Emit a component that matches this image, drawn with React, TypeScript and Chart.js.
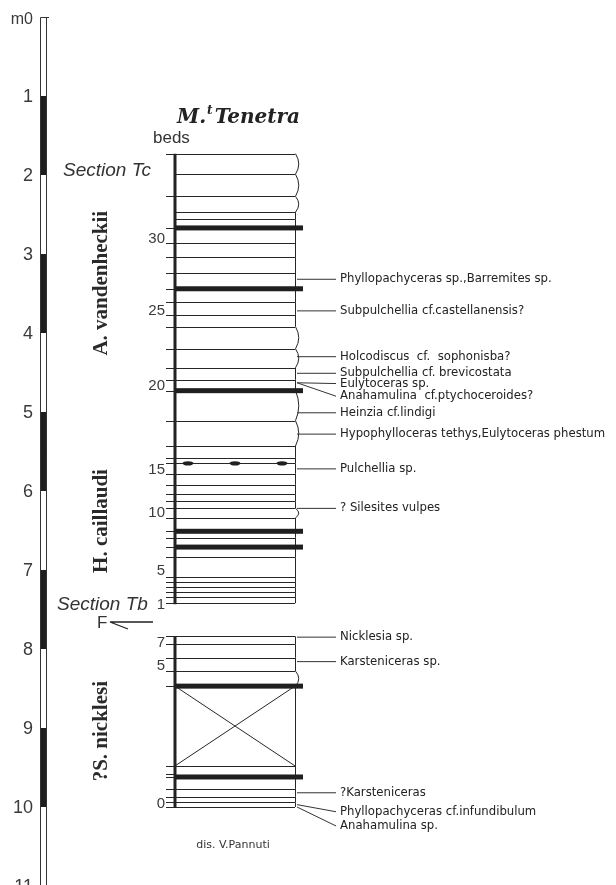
import React, { useEffect, useRef } from "react";
import { Chart, registerables } from "chart.js";

Chart.register(...registerables);

// ---- meter scale (m from top of the figure) ----
const meterTicks = [0, 1, 2, 3, 4, 5, 6, 7, 8, 9, 10, 11];
const meterLabels = ["m0", "1", "2", "3", "4", "5", "6", "7", "8", "9", "10", "11"];
const blackIntervals: number[][] = [[1, 2], [3, 4], [5, 6], [7, 8], [9, 10]];

// ---- bed boundaries (m) ----
const upperBeds = [
  1.73, 1.99, 2.27, 2.47, 2.56, 2.67, 2.86, 3.04, 3.24, 3.44, 3.61, 3.77, 3.92, 4.2, 4.44,
  4.59, 4.73, 5.11, 5.43, 5.58, 5.65, 5.78, 5.92, 6.04, 6.13, 6.22, 6.34, 6.51, 6.59, 6.71,
  6.84, 7.09, 7.15, 7.22, 7.28, 7.34, 7.42,
];
const lowerBeds = [7.84, 7.94, 8.11, 8.28, 8.47, 9.48, 9.62, 9.77, 9.87, 9.94, 10.0];
const thickBeds = [2.67, 3.44, 4.73, 6.51, 6.71, 8.47, 9.62];
const lensLevels = [5.65];
const curvedBeds: number[][] = [
  [1.73, 1.99], [1.99, 2.27], [2.27, 2.47], [3.92, 4.2], [4.2, 4.44], [4.73, 5.11],
  [5.11, 5.43], [6.22, 6.34], [8.28, 8.47],
];
const coveredInterval = [8.47, 9.48];
const noTickLevels = [1.99, 2.47, 2.56];
const extraTicks = [9.58];

// ---- bed numbers ----
const bedNumbers = ["30", "25", "20", "15", "10", "5", "1", "7", "5", "0"];
const bedNumberLevels = [2.86, 3.77, 4.72, 5.78, 6.33, 7.06, 7.49, 7.97, 8.27, 10.01];

// ---- fossils ----
const fossilNames = [
  "Phyllopachyceras sp.,Barremites sp.",
  "Subpulchellia cf.castellanensis?",
  "Holcodiscus  cf.  sophonisba?",
  "Subpulchellia cf. brevicostata",
  "Eulytoceras sp.",
  "Anahamulina  cf.ptychoceroides?",
  "Heinzia cf.lindigi",
  "Hypophylloceras tethys,Eulytoceras phestum",
  "Pulchellia sp.",
  "? Silesites vulpes",
  "Nicklesia sp.",
  "Karsteniceras sp.",
  "?Karsteniceras",
  "Phyllopachyceras cf.infundibulum",
  "Anahamulina sp.",
];
const fossilLevels = [3.32, 3.72, 4.3, 4.51, 4.63, 4.63, 5.01, 5.28, 5.72, 6.22, 7.85, 8.16, 9.82, 9.97, 10.0];
const fossilLabelLevels = [3.32, 3.72, 4.3, 4.51, 4.64, 4.8, 5.01, 5.28, 5.72, 6.22, 7.85, 8.16, 9.82, 10.06, 10.24];

// ---- zones ----
const zoneNames = ["A. vandenheckii", "H. caillaudi", "?S. nicklesi"];
const zoneCenters = [3.37, 6.38, 9.04];

const PX_PER_M = 79;
const TOP_PX = 17;
const H = 885;
const W = 616;

const drawPlugin = {
  id: "strat",
  beforeDraw(chart: any) {
    const ctx = chart.ctx;
    ctx.save();
    ctx.fillStyle = "#ffffff";
    ctx.fillRect(0, 0, chart.width, chart.height);
    ctx.restore();
  },
  afterDraw(chart: any) {
    const ctx: CanvasRenderingContext2D = chart.ctx;
    const xs = chart.scales.x;
    const ys = chart.scales.y;
    const X = (v: number) => xs.getPixelForValue(v);
    const Y = (m: number) => ys.getPixelForValue(m);
    const ink = "#262626";
    const txt = "#222222";
    ctx.save();

    // ---- meter bar ----
    const bx0 = X(40), bx1 = X(47);
    ctx.fillStyle = "#1e1e1e";
    blackIntervals.forEach(([a, b]) => ctx.fillRect(bx0, Y(a), bx1 - bx0, Y(b) - Y(a)));
    ctx.strokeStyle = "#333";
    ctx.lineWidth = 1;
    ctx.beginPath();
    ctx.moveTo(bx0 + 0.5, Y(11.3));
    ctx.lineTo(bx0 + 0.5, Y(0) + 0.5);
    ctx.lineTo(bx1 + 2, Y(0) + 0.5);
    ctx.moveTo(bx1 - 0.5, Y(0));
    ctx.lineTo(bx1 - 0.5, Y(11.3));
    ctx.stroke();
    ctx.fillStyle = "#3a3a3a";
    ctx.textAlign = "right";
    ctx.textBaseline = "middle";
    meterTicks.forEach((t, i) => {
      ctx.font = i === 0 ? "16px 'Liberation Sans'" : "18px 'Liberation Sans'";
      ctx.fillText(meterLabels[i], X(33), Y(t) + (i === 0 ? 3 : 1));
    });

    // ---- column ----
    const cl = X(175), cr = X(295), tr = X(303);
    const sections = [upperBeds, lowerBeds];
    ctx.strokeStyle = ink;
    ctx.lineWidth = 1;
    sections.forEach((beds) => {
      beds.forEach((b) => {
        const y = Math.round(Y(b)) + 0.5;
        ctx.beginPath();
        ctx.moveTo(cl, y);
        ctx.lineTo(cr, y);
        ctx.stroke();
        if (!noTickLevels.includes(b)) {
          ctx.beginPath();
          ctx.moveTo(X(166), y);
          ctx.lineTo(cl, y);
          ctx.stroke();
        }
      });
      // right edge
      for (let i = 0; i < beds.length - 1; i++) {
        const a = beds[i], b = beds[i + 1];
        const curved = curvedBeds.some(([p, q]) => p === a && q === b);
        ctx.beginPath();
        ctx.moveTo(cr + 0.5, Y(a));
        if (curved) ctx.quadraticCurveTo(cr + 7, (Y(a) + Y(b)) / 2, cr + 0.5, Y(b));
        else ctx.lineTo(cr + 0.5, Y(b));
        ctx.stroke();
      }
      // left thick line
      ctx.save();
      ctx.lineWidth = 3;
      ctx.strokeStyle = "#222";
      ctx.beginPath();
      ctx.moveTo(cl, Y(beds[0]));
      ctx.lineTo(cl, Y(beds[beds.length - 1]) + 1);
      ctx.stroke();
      ctx.restore();
    });
    extraTicks.forEach((t) => {
      const y = Math.round(Y(t)) + 0.5;
      ctx.beginPath();
      ctx.moveTo(X(166), y);
      ctx.lineTo(cl, y);
      ctx.stroke();
    });
    // thick beds
    ctx.fillStyle = "#1f1f1f";
    thickBeds.forEach((b) => ctx.fillRect(cl, Y(b) - 2.5, tr - cl, 5));
    // lenses
    lensLevels.forEach((l) => {
      [188, 235, 282].forEach((cx) => {
        ctx.beginPath();
        ctx.ellipse(X(cx), Y(l), 5.5, 2.2, 0, 0, Math.PI * 2);
        ctx.fill();
      });
    });
    // covered interval cross
    ctx.beginPath();
    ctx.moveTo(cl, Y(coveredInterval[0]));
    ctx.lineTo(cr, Y(coveredInterval[1]));
    ctx.moveTo(cr, Y(coveredInterval[0]));
    ctx.lineTo(cl, Y(coveredInterval[1]));
    ctx.stroke();

    // bed numbers
    ctx.fillStyle = "#3a3a3a";
    ctx.font = "15px 'Liberation Sans'";
    ctx.textAlign = "right";
    ctx.textBaseline = "alphabetic";
    bedNumbers.forEach((n, i) => ctx.fillText(n, X(165), Y(bedNumberLevels[i])));

    // fossils
    ctx.font = "11.7px 'DejaVu Sans'";
    ctx.textAlign = "left";
    ctx.textBaseline = "middle";
    ctx.fillStyle = txt;
    ctx.strokeStyle = "#333";
    fossilNames.forEach((name, i) => {
      ctx.beginPath();
      ctx.moveTo(X(297), Y(fossilLevels[i]));
      ctx.lineTo(X(336), Y(fossilLabelLevels[i]));
      ctx.stroke();
      ctx.fillText(name, X(340), Y(fossilLabelLevels[i]));
    });

    // zone labels (vertical)
    ctx.font = "bold 21px 'Liberation Serif'";
    ctx.textAlign = "center";
    ctx.textBaseline = "middle";
    ctx.fillStyle = "#2a2a2a";
    zoneNames.forEach((z, i) => {
      ctx.save();
      ctx.translate(X(102), Y(zoneCenters[i]));
      ctx.rotate(-Math.PI / 2);
      ctx.fillText(z, 0, 0);
      ctx.restore();
    });

    // title
    ctx.textAlign = "left";
    ctx.textBaseline = "alphabetic";
    ctx.fillStyle = "#222";
    let tx = X(177);
    ctx.font = "bold italic 20px 'DejaVu Serif'";
    ctx.fillText("M.", tx, 123);
    tx += ctx.measureText("M.").width;
    ctx.font = "bold italic 12px 'DejaVu Serif'";
    ctx.fillText("t", tx + 1, 114);
    tx += ctx.measureText("t").width + 3;
    ctx.font = "bold italic 20px 'DejaVu Serif'";
    ctx.fillText("Tenetra", tx, 123);

    ctx.fillStyle = "#333";
    ctx.font = "17px 'Liberation Sans'";
    ctx.textBaseline = "middle";
    ctx.fillText("beds", X(153), 138);

    ctx.font = "italic 19px 'Liberation Sans'";
    ctx.fillText("Section Tc", X(63), 171);
    ctx.fillText("Section Tb", X(57), 605);
    ctx.font = "17px 'Liberation Sans'";
    ctx.fillText("F", X(97), 623);
    ctx.strokeStyle = "#222";
    ctx.lineWidth = 1.3;
    ctx.beginPath();
    ctx.moveTo(X(110), 622);
    ctx.lineTo(X(153), 622);
    ctx.moveTo(X(110), 622);
    ctx.lineTo(X(128), 629);
    ctx.stroke();

    ctx.font = "11px 'DejaVu Sans'";
    ctx.textAlign = "center";
    ctx.fillStyle = "#333";
    ctx.fillText("dis. V.Pannuti", X(233), 845);

    ctx.restore();
  },
};

export default function App() {
  const ref = useRef<HTMLCanvasElement | null>(null);
  useEffect(() => {
    document.body.style.margin = "0";
    if (!ref.current) return;
    const minM = -TOP_PX / PX_PER_M;
    const maxM = minM + H / PX_PER_M;
    const chart = new Chart(ref.current, {
      type: "scatter",
      data: { datasets: [{ data: [] }] },
      options: {
        animation: false,
        responsive: false,
        layout: { padding: 0 },
        plugins: { legend: { display: false }, tooltip: { enabled: false } },
        scales: {
          x: { type: "linear", min: 0, max: W, display: false },
          y: { type: "linear", min: minM, max: maxM, reverse: true, display: false },
        },
      },
      plugins: [drawPlugin],
    });
    return () => chart.destroy();
  }, []);
  return (
    <div style={{ width: W, height: H }}>
      <canvas ref={ref} width={W} height={H} style={{ display: "block" }} />
    </div>
  );
}
